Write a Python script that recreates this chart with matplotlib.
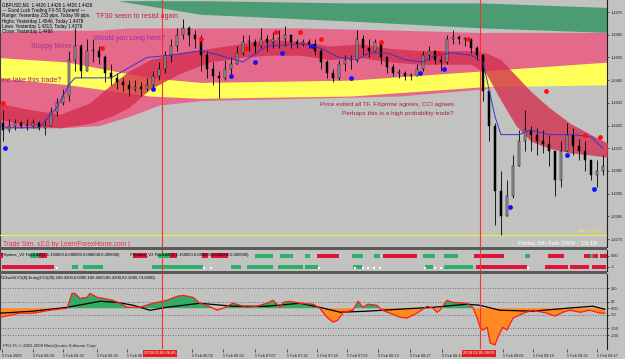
import numpy as np
import matplotlib
matplotlib.use("Agg")
import matplotlib.pyplot as plt
from matplotlib.patches import Rectangle

plt.rcParams['font.family'] = ['Liberation Sans', 'DejaVu Sans']

W, H, DPI = 625, 359, 100
BG = '#c2c2c0'

# ---------------- price bars ----------------
bar_high = [1.4432, 1.4428, 1.4428, 1.4427, 1.4428, 1.4428, 1.4427, 1.4428, 1.4433, 1.4437,
            1.4441, 1.4458, 1.4468, 1.4461, 1.4463, 1.4463, 1.4460, 1.4456, 1.4452, 1.4448,
            1.4446, 1.4445, 1.4445, 1.4444, 1.4446, 1.4449, 1.4453, 1.4458, 1.4463, 1.4468,
            1.4472, 1.4469, 1.4467, 1.4465, 1.4458, 1.4453, 1.4449, 1.4454, 1.4455, 1.4460,
            1.4465, 1.4465, 1.4463, 1.4468, 1.4465, 1.4466, 1.4467, 1.4469, 1.4465, 1.4463,
            1.4463, 1.4463, 1.4463, 1.4459, 1.4454, 1.4450, 1.4454, 1.4456, 1.4456, 1.4467,
            1.4465, 1.4463, 1.4463, 1.4460, 1.4455, 1.4452, 1.4450, 1.4449, 1.4448, 1.4452,
            1.4458, 1.4460, 1.4458, 1.4456, 1.4465, 1.4467, 1.4465, 1.4464, 1.4463, 1.4460,
            1.4456, 1.4440, 1.4426, 1.4405, 1.4401, 1.4412, 1.4423, 1.4432, 1.4425, 1.4424,
            1.4423, 1.4421, 1.4414, 1.4418, 1.4426, 1.4424, 1.4419, 1.4418, 1.4410, 1.4410,
            1.4412]
bar_low = [1.4418, 1.4422, 1.4423, 1.4424, 1.4423, 1.4424, 1.4423, 1.4421, 1.4425, 1.4429,
           1.4434, 1.4436, 1.4449, 1.4446, 1.4449, 1.4453, 1.4452, 1.4444, 1.4443, 1.4441,
           1.4440, 1.4438, 1.4440, 1.4438, 1.4440, 1.4441, 1.4445, 1.4448, 1.4453, 1.4458,
           1.4463, 1.4460, 1.4459, 1.4449, 1.4446, 1.4443, 1.4437, 1.4445, 1.4447, 1.4452,
           1.4456, 1.4458, 1.4457, 1.4459, 1.4458, 1.4459, 1.4459, 1.4460, 1.4459, 1.4459,
           1.4460, 1.4459, 1.4456, 1.4450, 1.4446, 1.4444, 1.4445, 1.4449, 1.4450, 1.4453,
           1.4456, 1.4455, 1.4458, 1.4452, 1.4448, 1.4447, 1.4446, 1.4445, 1.4445, 1.4447,
           1.4449, 1.4454, 1.4452, 1.4449, 1.4452, 1.4461, 1.4461, 1.4460, 1.4457, 1.4454,
           1.4436, 1.4418, 1.4381, 1.4377, 1.4385, 1.4393, 1.4407, 1.4414, 1.4414, 1.4412,
           1.4413, 1.4407, 1.4394, 1.4398, 1.4414, 1.4412, 1.4410, 1.4405, 1.4401, 1.4398,
           1.4403]
bar_close = [1.4423, 1.4425, 1.4426, 1.4425, 1.4425, 1.4426, 1.4424, 1.4425, 1.4431, 1.4435,
             1.4438, 1.4454, 1.4460, 1.4449, 1.4458, 1.4458, 1.4455, 1.4448, 1.4446, 1.4444,
             1.4443, 1.4441, 1.4442, 1.4441, 1.4443, 1.4447, 1.4450, 1.4456, 1.4460, 1.4465,
             1.4468, 1.4465, 1.4463, 1.4456, 1.4450, 1.4447, 1.4446, 1.4450, 1.4452, 1.4457,
             1.4462, 1.4462, 1.4460, 1.4463, 1.4462, 1.4463, 1.4463, 1.4465, 1.4462, 1.4461,
             1.4462, 1.4461, 1.4458, 1.4453, 1.4448, 1.4446, 1.4452, 1.4454, 1.4454, 1.4463,
             1.4459, 1.4458, 1.4462, 1.4455, 1.4451, 1.4448, 1.4448, 1.4447, 1.4447, 1.4450,
             1.4456, 1.4458, 1.4454, 1.4453, 1.4463, 1.4464, 1.4463, 1.4463, 1.4459, 1.4456,
             1.4440, 1.4425, 1.4396, 1.4385, 1.4394, 1.4407, 1.4418, 1.4423, 1.4421, 1.4418,
             1.4417, 1.4414, 1.4401, 1.4414, 1.4421, 1.4416, 1.4414, 1.4410, 1.4403, 1.4405,
             1.4407]
first_open = 1.4426

price_ticks = [1.4475, 1.4465, 1.4455, 1.4445, 1.4435, 1.4425, 1.4415, 1.4405, 1.4395, 1.4385, 1.4375]
price_tick_labels = ['1.4475', '1.4465', '1.4455', '1.4445', '1.4435', '1.4425',
                     '1.4415', '1.4405', '1.4395', '1.4385', '1.4375']
bid_price = 1.4377

# ---------------- timeframe envelopes ----------------
green_x = [19, 33, 58, 80, 101]
green_top = [1.4480, 1.4480, 1.4479, 1.4479, 1.4477]
green_bot = [1.4480, 1.4474, 1.4471, 1.4468, 1.4466]

pink_x = [-1, 9.5, 16, 21, 26, 33, 49.5, 66, 79.5, 89.5, 101]
pink_top = [1.4466, 1.4467, 1.4467, 1.4468, 1.4468, 1.4468, 1.4468, 1.4467, 1.4466, 1.4466, 1.4466]
pink_bot = [1.4424, 1.4424, 1.4425, 1.4429, 1.4434, 1.4436, 1.4437, 1.4438, 1.4441, 1.4445, 1.4447]

yel_x = [-1, 10.7, 24.5, 33, 58, 79.5, 101]
yel_top = [1.4455, 1.4453, 1.4446, 1.4444, 1.4445, 1.4449, 1.4453]
yel_bot = [1.4446, 1.4443, 1.4438, 1.4437, 1.4438, 1.4442, 1.4443]

dark_x = [-1, 4.5, 9.5, 14.5, 18, 21, 24.5, 29.5, 34.5, 39.5, 44.5, 49.5, 54.5, 59.5, 64.5,
          69.5, 74.5, 78, 80.5, 83, 85.5, 88, 91, 94.5, 98, 101]
dark_top = [1.4435, 1.4432, 1.4430, 1.4435, 1.4443, 1.4449, 1.4454, 1.4457, 1.4459, 1.4461,
            1.4463, 1.4462, 1.4460, 1.4461, 1.4459, 1.4458, 1.4458, 1.4458, 1.4457, 1.4454,
            1.4447, 1.4440, 1.4433, 1.4426, 1.4421, 1.4417]
dark_bot = [1.4428, 1.4425, 1.4424, 1.4426, 1.4429, 1.4433, 1.4441, 1.4448, 1.4453, 1.4455,
            1.4456, 1.4456, 1.4454, 1.4455, 1.4453, 1.4452, 1.4452, 1.4452, 1.4448, 1.4436,
            1.4425, 1.4418, 1.4415, 1.4413, 1.4412, 1.4411]

ma_x = [0, 6, 9, 11, 12, 18, 20, 24, 28, 33, 36, 40, 44, 50, 53, 56, 59, 61, 64, 67, 70, 72,
        75, 78, 80, 81, 82, 83, 86, 88, 91, 95, 98, 100]
ma_v = [1.4424, 1.4424, 1.4433, 1.4443, 1.4446, 1.4446, 1.4449, 1.4455, 1.4456, 1.4458,
        1.4456, 1.4453, 1.4460, 1.4461, 1.4459, 1.4455, 1.4454, 1.4457, 1.4457, 1.4454,
        1.4453, 1.4456, 1.4457, 1.4456, 1.4453, 1.4441, 1.4429, 1.4421, 1.4421, 1.4423,
        1.4421, 1.4421, 1.4420, 1.4415]

frac_up_x = [0, 16.5, 33, 40.5, 45.5, 49.5, 53, 63, 72.5, 77.5, 90.5, 97, 99.5]
frac_up_v = [1.4435, 1.4459, 1.4463, 1.4459, 1.4466, 1.4466, 1.4463, 1.4462, 1.4457,
             1.4463, 1.4440, 1.4421, 1.4420]
frac_dn_x = [0.3, 25, 38, 42, 46.5, 51.5, 58, 69.5, 73.5, 84.5, 94, 98.5]
frac_dn_v = [1.4415, 1.4441, 1.4447, 1.4453, 1.4457, 1.4460, 1.4446, 1.4448, 1.4450,
             1.4389, 1.4412, 1.4397]

vlines_x = [26.5, 79.5]

# ---------------- FXprime panel ----------------
fx1_start = [42, 46.2, 50.3, 52.3, 58.2, 61.8, 63.3, 70, 73.5, 78.5, 87, 90.8, 96.8, 97.8, 98.3, 99.5]
fx1_end = [45, 48.3, 51.2, 56, 60, 62.8, 69, 72, 75.8, 83.5, 87.8, 93.5, 97.8, 98.3, 99.2, 100.7]
fx1_sig = [1, 1, 1, -1, 1, 1, -1, 1, 1, -1, 1, -1, -1, 1, -1, -1]
fx2_start = [-0.2, 11.5, 13.3, 24.8, 38, 40.7, 45.8, 50.3, 58.3, 70.3, 73.5, 78.8, 90.3, 94.5, 98.2]
fx2_end = [8.5, 12.5, 16.7, 33.3, 39.7, 45, 50, 52.5, 59.8, 71.7, 78.3, 87.3, 94.2, 97.7, 100.5]
fx2_sig = [-1, 1, 1, 1, 1, 1, 1, 1, 1, 1, 1, -1, -1, -1, -1]
fx2_dots = [9, 33.5, 34.7, 52.7, 58.7, 60, 60.8, 61.8, 62.8, 70.3, 72, 73, 87.5]
fx_rows = [0, -3]

# ---------------- CCI panel ----------------
cci_t = [-0.5, 1.2, 2.8, 5, 7.8, 10.7, 11.5, 12, 12.8, 14, 14.5, 15.7, 16.7, 18.3, 19.5, 20.7,
         22.8, 25, 27.3, 29, 30, 31.7, 32.8, 34, 35.7, 36.7, 38.3, 39.5, 40.7, 42.3, 44, 45,
         46.2, 46.7, 47.8, 49.5, 51.7, 52.8, 54, 55, 55.8, 56.7, 58.3, 59.2, 60, 60.8, 62.3,
         63.2, 64.5, 66.2, 67.3, 69, 70.7, 71.7, 72.3, 72.8, 74, 75, 77.3, 78.3, 79, 79.5, 80,
         80.7, 81.2, 82, 82.5, 83.3, 84, 85, 86.7, 88.3, 90.7, 92, 93.3, 94.5, 96.2, 97.8,
         99.5, 100.3]
cci_v = [-67, -52, -37, -37, -15, 0, 111, 111, 74, 81, 111, 81, 74, 59, 37, 7, 7, 37, 59, 89,
         96, 81, 37, 22, -15, 0, 37, 22, 7, 15, 37, 59, 7, 44, 52, 37, 30, 0, -67, -104, -89,
         -30, -15, 52, 7, 30, 22, -15, -37, -67, -74, -37, 15, 0, -30, -15, 59, 44, 37, 7, -67,
         -141, -163, -141, -259, -274, -215, -141, -163, -74, -37, -15, -37, -59, -30, -15,
         -30, -15, -37, -37]
sig_t = [-0.5, 5, 10.7, 16.2, 19, 21.7, 24.5, 27.3, 32.8, 38.3, 44, 49.5, 52.8, 56.2, 60.7,
         66.2, 71.7, 77.3, 79.5, 82.8, 88.3, 94, 98.3, 100.3]
sig_v = [-37, -22, 7, 52, 44, 22, -15, 7, 37, 15, 15, 37, 7, -30, -22, -7, 7, 30, 22, -15,
         -22, 0, 15, -7]
cci_levels = [150, 50, -50, -150, -200]
cci_ticks = [150, 50, 0, -50, -150, -200]
cci_tick_labels = ['150', '50', '0.00', '-50', '-150', '-200']

time_tick_pos = [-0.17, 5, 10, 15.67, 20.67, 31.5, 36.67, 42, 47.33, 52.33, 57.33, 62.5,
                 67.83, 73.17, 83.33, 88.33, 94, 99]
time_tick_labels = ['5 Feb 2009', '5 Feb 06:04', '5 Feb 06:20', '5 Feb 06:36', '5 Feb 06:52',
                    '5 Feb 06:58', '5 Feb 06:50', '5 Feb 07:07', '5 Feb 07:22', '5 Feb 07:38',
                    '5 Feb 07:55', '5 Feb 08:13', '5 Feb 08:27', '5 Feb 08:43', '5 Feb 09:05',
                    '5 Feb 09:16', '5 Feb 09:32', '5 Feb 09:47']

# ---------------- figure ----------------
fig = plt.figure(figsize=(W / DPI, H / DPI), dpi=DPI, facecolor=BG)


def px_axes(x0, y0, x1, y1):
    return fig.add_axes([x0 / W, 1 - y1 / H, (x1 - x0) / W, (y1 - y0) / H])


def ptext(x, y, s, **kw):
    kw.setdefault('va', 'center')
    kw.setdefault('ha', 'left')
    return fig.text(x / W, 1 - y / H, s, **kw)


def prect(x0, y0, x1, y1, color):
    fig.add_artist(Rectangle((x0 / W, 1 - y1 / H), (x1 - x0) / W, (y1 - y0) / H,
                             transform=fig.transFigure, facecolor=color, edgecolor='none',
                             zorder=0.5))


XLIM = (-0.5, 100.67)


def style(ax):
    ax.set_facecolor(BG)
    ax.set_xlim(*XLIM)
    for s in ('top', 'bottom'):
        ax.spines[s].set_visible(False)
    ax.spines['left'].set_color('#404040')
    ax.spines['left'].set_linewidth(0.8)
    ax.spines['right'].set_color('#202020')
    ax.spines['right'].set_linewidth(0.8)
    ax.yaxis.tick_right()
    ax.tick_params(axis='y', labelsize=2.9, length=1.5, width=0.5, pad=1.0, colors='#202020')
    ax.tick_params(axis='x', bottom=False, labelbottom=False)


# ---- main price panel ----
ax = px_axes(0, 0, 607, 247)
style(ax)
ax.set_ylim(1.43715, 1.44803)

ax.fill_between(green_x, green_bot, green_top, color='#4b9c72', lw=0, zorder=1)
ax.fill_between(pink_x, pink_bot, pink_top, color='#e5698b', lw=0, zorder=1)
ax.fill_between(yel_x, yel_bot, yel_top, color='#ffff5a', lw=0, zorder=2)
ax.fill_between(dark_x, dark_bot, dark_top, color='#d3304f', alpha=0.8, lw=0, zorder=3)

opens = [first_open] + bar_close[:-1]
for i, (o, h, l, c) in enumerate(zip(opens, bar_high, bar_low, bar_close)):
    ax.vlines(i, l, h, color='black', lw=0.6, zorder=5)
    lo_b = min(o, c)
    hb = max(abs(c - o), 0.00004)
    fc = '#a4a4a4' if c >= o else 'black'
    ax.add_patch(Rectangle((i - 0.22, lo_b), 0.44, hb, facecolor=fc, edgecolor='black',
                           lw=0.35, zorder=5))

ax.plot(ma_x, ma_v, color='#3434d0', lw=0.7, zorder=6)
ax.scatter(frac_up_x, frac_up_v, s=12, color='#ff1010', zorder=7, lw=0)
ax.scatter(frac_dn_x, frac_dn_v, s=12, color='#1010ff', zorder=7, lw=0)
ax.axhline(bid_price, color='#f0f040', lw=0.8, zorder=4)
ax.set_yticks(price_ticks)
ax.set_yticklabels(price_tick_labels)

# ---- separators ----
prect(0, 247, 607, 249.5, '#5a5a5a')
prect(0, 271, 607, 273.5, '#5a5a5a')

# ---- FXprime panel ----
axf = px_axes(0, 249.5, 607, 271)
style(axf)
axf.set_ylim(-4.2, 1.7)
for s0, s1, sg in zip(fx1_start, fx1_end, fx1_sig):
    axf.add_patch(Rectangle((s0, fx_rows[0] - 0.55), s1 - s0, 1.1,
                            color='#2fb06a' if sg > 0 else '#e0143c', lw=0))
for s0, s1, sg in zip(fx2_start, fx2_end, fx2_sig):
    axf.add_patch(Rectangle((s0, fx_rows[1] - 0.55), s1 - s0, 1.1,
                            color='#2fb06a' if sg > 0 else '#e0143c', lw=0))
axf.scatter(fx2_dots, [fx_rows[1] - 0.3] * len(fx2_dots), s=3, marker='s', color='white',
            lw=0, zorder=4)
axf.set_yticks(fx_rows)
axf.set_yticklabels(['0.00', '-3'])

# ---- CCI panel ----
axc = px_axes(0, 273.5, 607, 349)
style(axc)
axc.set_ylim(-304, 259)
t = np.array(cci_t)
v = np.array(cci_v)
axc.fill_between(t, v, 0, where=v >= 0, interpolate=True, color='#33aa66', lw=0, zorder=2)
axc.fill_between(t, v, 0, where=v <= 0, interpolate=True, color='#ff8a22', lw=0, zorder=2)
for lv in cci_levels:
    axc.axhline(lv, color='#505070', lw=0.6, ls=(0, (1, 2)), zorder=1)
axc.plot(sig_t, sig_v, color='black', lw=0.9, zorder=3)
axc.plot(cci_t, cci_v, color='#ff1a1a', lw=0.9, zorder=4)
axc.set_yticks(cci_ticks)
axc.set_yticklabels(cci_tick_labels)
axc.set_xticks(time_tick_pos)
axc.set_xticklabels(time_tick_labels)
axc.tick_params(axis='x', bottom=True, labelbottom=True, labelsize=2.8, length=2, width=0.5,
                pad=1.5, colors='#202020')
for lab in axc.get_xticklabels():
    lab.set_ha('left')

for a in (ax, axf, axc):
    for xv in vlines_x:
        a.axvline(xv, color='#ff3030', lw=0.8, zorder=8)

# ---- annotations ----
hdr = ['GBPUSD,M1  1.4426 1.4426 1.4426 1.4426',
       '--- Good Luck Trading FX-50 System! ---',
       'Range: Yesterday 233 pips, Today 99 pips.',
       'Highs: Yesterday 1.4546, Today 1.4478',
       'Lows: Yesterday 1.4313, Today 1.4379',
       'Close: Yesterday 1.4466']
for k, line in enumerate(hdr):
    ptext(2, 5 + 5.4 * k, line, fontsize=3.3, color='black', zorder=10)

ptext(96, 17, 'TF30 seem to resist again', fontsize=5, color='#c8203c', zorder=10)
ptext(94, 38, 'Would you Long here?', fontsize=5, color='#9030b8', zorder=10)
ptext(31, 47, 'Sloppy Move', fontsize=5, color='#a83090', zorder=10)
ptext(-1, 81, 'one take this trade?', fontsize=5, color='#a02070', zorder=10)
ptext(320, 104, 'Price exited all TF, FXprime agrees, CCI agrees', fontsize=4.6,
      color='#a82040', zorder=10)
ptext(342, 113, 'Perhaps this is a high probability trade?', fontsize=4.6,
      color='#a82040', zorder=10)
ptext(3, 244, 'Trade Sim. v2.0 by LearnForexHome.com |', fontsize=4.8, color='#e8304a',
      zorder=10)
ptext(518, 244, 'Friday 6th Feb 2009 - 10:19', fontsize=4.6, color='white', zorder=10)
ptext(578, 231.5, 'BID : 1.4377', fontsize=3.2, color='#f0f040', zorder=10)

fxhdr = 'FXprime_V2 FindLAB(1,1.150000,0.080000,0.080000,0.200000)'
for x0, x1, col in [(0, 3, '#e0143c'), (30, 39, '#2fb06a'), (39, 47, '#e0143c'),
                    (133, 147, '#e0143c'), (158, 170, '#2fb06a'), (170, 177, '#e0143c'),
                    (202, 208, '#e0143c'), (211, 228, '#e0143c')]:
    prect(x0, 252.5, x1, 257.5, col)
ptext(1, 255, fxhdr, fontsize=3.1, color='black', zorder=10)
ptext(130, 255, fxhdr, fontsize=3.1, color='black', zorder=10)

ptext(1, 278, 'CCIwithCCI(8),Entry(CCI(20),100.4300,0.0000,100.4300,86.4300,62.3600,74.6600)',
      fontsize=3.1, color='black', zorder=10)
ptext(3, 345.5, 'FFG FL \u00a9 2001-2009 MetaQuotes Software Corp.', fontsize=3.1,
      color='#202020', zorder=10)

for x0, s in [(143, '2009.02.05 06:46'), (462, '2009.02.05 08:55')]:
    ptext(x0 + 1, 353.5, s, fontsize=3.0, color='white', zorder=10,
          bbox=dict(boxstyle='square,pad=0.25', facecolor='#e02020', edgecolor='none'))

fig.savefig('out.png', dpi=DPI, facecolor=BG)
